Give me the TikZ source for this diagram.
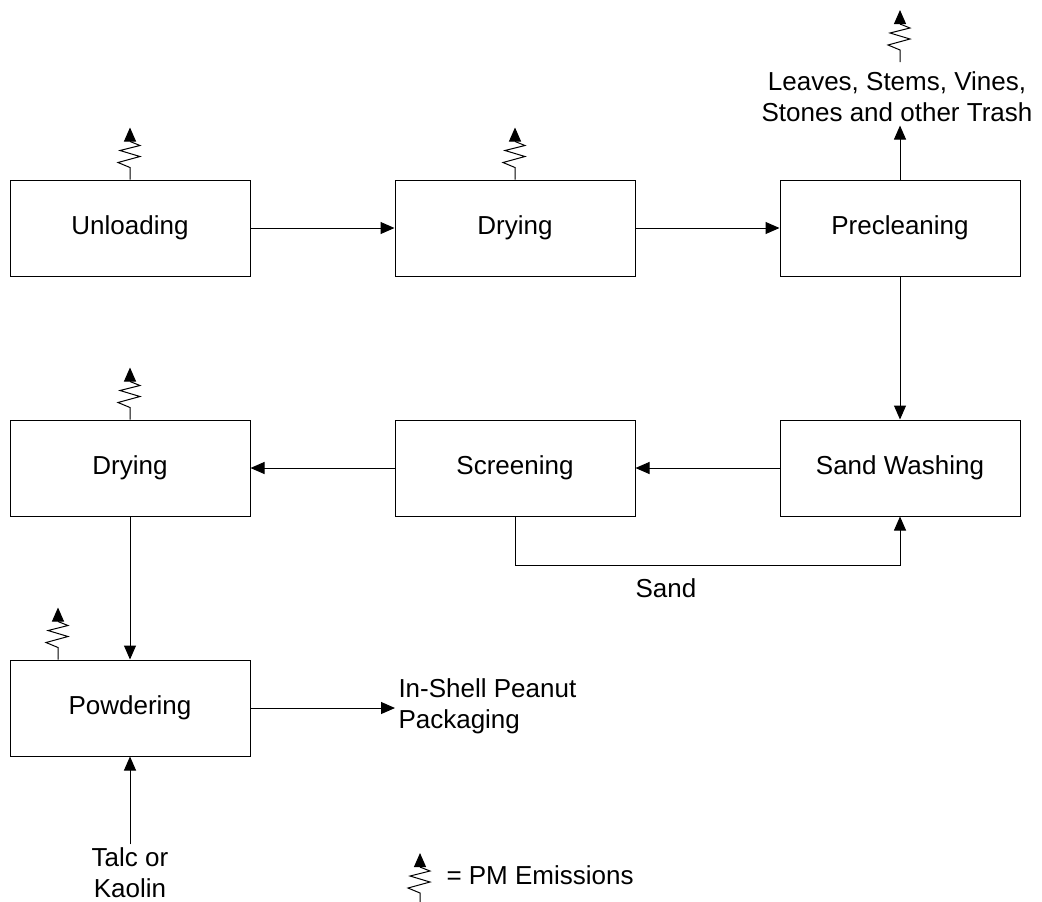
\documentclass[tikz,border=0pt]{standalone}
\usepackage{fontspec}
\setmainfont{Liberation Sans}
\usetikzlibrary{arrows.meta}
\begin{document}
\begin{tikzpicture}[x=0.5pt, y=-0.5pt, line width=0.5pt,
  font=\fontsize{13}{15.5}\selectfont,
  stage/.style={draw, minimum width=120pt, minimum height=48pt},
  flow/.style={-{Triangle[length=7pt,width=6pt]}},
  label/.style={inner sep=1.5pt, align=center},
  emission/.pic={
    \draw (0,0) -- (0,-12) -- (-12,-17) -- (10,-23) -- (-10,-29) -- (10,-34) -- (0,-38);
    \draw [flow] (0,-38) -- (0,-52);
  }]
\useasboundingbox (0,0) rectangle (1042,901);
\node[stage] (unload)   at (130,228) {Unloading};
\node[stage] (dry1)     at (515,228) {Drying};
\node[stage] (preclean) at (900,228) {Precleaning};
\node[stage] (dry2)     at (130,468) {Drying};
\node[stage] (screen)   at (515,468) {Screening};
\node[stage] (sandwash) at (900,468) {Sand Washing};
\node[stage] (powder)   at (130,708) {Powdering};
\node[label] (trash) at (897,97) {Leaves, Stems, Vines,\\Stones and other Trash};
\node[label, anchor=west, align=left] (packaging) at (395,706) {In-Shell Peanut\\Packaging};
\node[label] (talc) at (130,873) {Talc or\\Kaolin};
\node[label] (sand) at (666,588) {Sand};
\node[label, anchor=west] (legend) at (443,875) {= PM Emissions};
\draw [flow] (unload) -- (dry1);
\draw [flow] (dry1) -- (preclean);
\draw [flow] (preclean.north) -- (preclean.north |- trash.south);
\draw [flow] (preclean) -- (sandwash);
\draw [flow] (sandwash) -- (screen);
\draw [flow] (screen) -- (dry2);
\draw [flow] (screen.south) -- ++(0,49) -| (sandwash.south);
\draw [flow] (dry2) -- (powder);
\draw [flow] (powder.east) -- (powder.east -| packaging.west);
\draw [flow] (talc) -- (powder);
\pic at (unload.north) {emission};
\pic at (dry1.north) {emission};
\pic at (dry2.north) {emission};
\pic at ([xshift=-36pt]powder.north) {emission};
\pic at (900,62) {emission};
\pic at (420,905) {emission};
\end{tikzpicture}
\end{document}
